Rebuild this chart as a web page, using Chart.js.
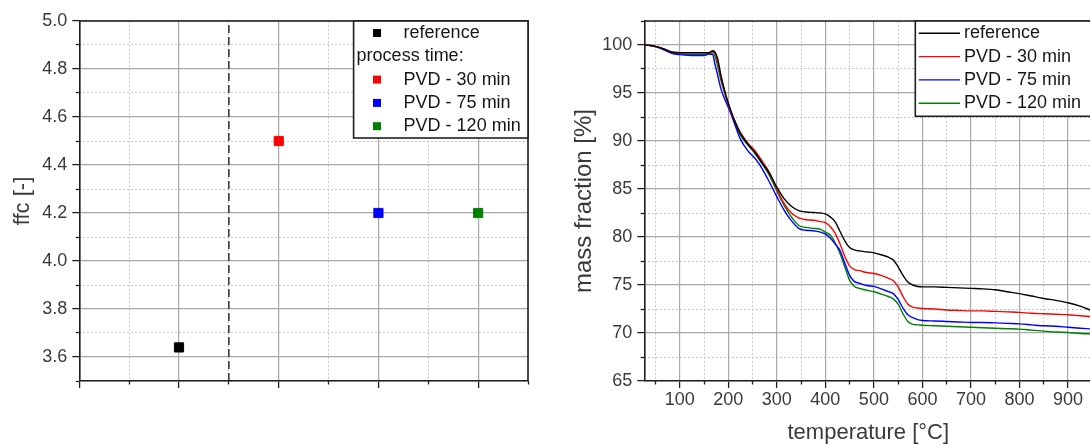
<!DOCTYPE html>
<html>
<head>
<meta charset="utf-8">
<title>ffc and TGA of PVD-coated powders</title>
<script src="https://cdn.jsdelivr.net/npm/chart.js@4.4.1/dist/chart.umd.min.js"></script>
<style>
  html, body { margin: 0; padding: 0; background: #fff; width: 1090px; height: 445px; overflow: hidden; position: relative; }
  canvas { position: absolute; top: 0; }
  #ffcChart { left: 0; }
  #tgaChart { left: 545px; }
</style>
</head>
<body>
<canvas id="ffcChart" width="545" height="445"></canvas>
<canvas id="tgaChart" width="550" height="445"></canvas>
<script>
// ---- flowability (ffc) per sample ----
const sampleNames = ['reference', 'PVD - 30 min', 'PVD - 75 min', 'PVD - 120 min'];
const sampleColors = ['#000000', '#ff0000', '#0000ff', '#008000'];
const samplePositions = [1, 2, 3, 4];
const ffcValues = [3.64, 4.50, 4.20, 4.20];
const ffcHeading = 'process time:';
const dividerPosition = 1.5;

const ffcMajorTicks = [3.6, 3.8, 4.0, 4.2, 4.4, 4.6, 4.8, 5.0];
const ffcMinorTicks = [3.5, 3.7, 3.9, 4.1, 4.3, 4.5, 4.7, 4.9];
const positionMajorTicks = [0, 1, 2, 3, 4];
const positionMinorTicks = [0.5, 1.5, 2.5, 3.5, 4.5];

// ---- thermogravimetric curves ----
const temperatureC = [27, 40, 55, 70, 85, 100, 130, 150, 160, 168,
  172, 178, 185, 195, 205, 215, 225, 240, 255, 270,
  285, 300, 315, 330, 345, 360, 375, 390, 400, 410,
  420, 430, 440, 450, 460, 470, 485, 500, 515, 530,
  540, 550, 560, 570, 580, 590, 600, 625, 650, 675,
  700, 725, 750, 775, 800, 825, 850, 875, 900, 925, 950];

const massReference = [100.0, 99.95, 99.8, 99.55, 99.25, 99.2, 99.2, 99.2, 99.2, 99.4,
  99.3, 98.6, 96.8, 94.8, 93.2, 91.9, 90.8, 89.7, 88.8, 87.7,
  86.6, 85.2, 84.0, 83.2, 82.75, 82.6, 82.55, 82.5, 82.4, 82.1,
  81.6, 80.6, 79.6, 78.9, 78.65, 78.55, 78.45, 78.35, 78.15, 77.9,
  77.6, 76.9, 76.0, 75.3, 75.0, 74.85, 74.8, 74.8, 74.75, 74.7,
  74.65, 74.6, 74.5, 74.3, 74.1, 73.85, 73.6, 73.4, 73.15, 72.8, 72.3];

const massPvd30 = [100.0, 99.95, 99.8, 99.55, 99.25, 99.2, 99.2, 99.2, 99.2, 99.3,
  99.2, 98.3, 96.6, 94.7, 93.1, 91.9, 90.9, 89.8, 89.0, 87.9,
  86.7, 85.0, 83.5, 82.5, 82.0, 81.8, 81.75, 81.6, 81.5, 81.1,
  80.4, 79.3, 78.0, 77.0, 76.6, 76.5, 76.3, 76.2, 76.0, 75.7,
  75.45, 74.8, 73.8, 73.0, 72.7, 72.6, 72.55, 72.5, 72.4, 72.35,
  72.3, 72.3, 72.25, 72.2, 72.15, 72.05, 72.0, 71.95, 71.9, 71.8, 71.7];

const massPvd75 = [100.0, 99.95, 99.75, 99.45, 99.1, 99.0, 98.9, 98.9, 99.05, 99.0,
  98.1, 96.9, 95.4, 94.1, 92.9, 91.5, 90.2, 89.0, 88.2, 87.1,
  85.7, 84.2, 82.8, 81.7, 80.9, 80.7, 80.65, 80.5, 80.3, 79.9,
  79.3, 78.6, 77.3, 76.0, 75.35, 75.2, 74.95, 74.85, 74.6, 74.3,
  74.1, 73.5, 72.6, 71.9, 71.6, 71.4, 71.3, 71.25, 71.2, 71.15,
  71.1, 71.1, 71.05, 71.0, 70.95, 70.85, 70.75, 70.7, 70.6, 70.5, 70.4];

const massPvd120 = [100.0, 99.95, 99.75, 99.45, 99.15, 99.05, 99.0, 99.0, 99.1, 99.2,
  98.9, 97.8, 96.3, 94.6, 93.1, 91.7, 90.6, 89.6, 88.7, 87.6,
  86.4, 84.8, 83.3, 82.1, 81.2, 81.0, 80.9, 80.8, 80.5, 80.2,
  79.4, 78.3, 76.9, 75.5, 74.85, 74.65, 74.45, 74.3, 74.05, 73.8,
  73.55, 73.0, 72.0, 71.2, 70.9, 70.85, 70.8, 70.75, 70.7, 70.65,
  70.6, 70.55, 70.5, 70.45, 70.4, 70.3, 70.2, 70.1, 70.05, 69.95, 69.9];

const massSeries = [massReference, massPvd30, massPvd75, massPvd120];

const tempMajorTicks = [100, 200, 300, 400, 500, 600, 700, 800, 900];
const tempMinorTicks = [50, 150, 250, 350, 450, 550, 650, 750, 850, 950];
const massMajorTicks = [65, 70, 75, 80, 85, 90, 95, 100];
const massMinorTicks = [67.5, 72.5, 77.5, 82.5, 87.5, 92.5, 97.5, 102.5];

// ---- shared styling ----
const FONT = "'Liberation Sans', Arial, Helvetica, sans-serif";
const AXIS_COLOR = '#1e1e1e';
const GRID_MAJOR = '#a8a8a8';
const GRID_MINOR = '#c8c8c8';
const LABEL_COLOR = '#3a3a3a';
const LEGEND_TEXT = '#161616';

Chart.defaults.font.family = FONT;
Chart.defaults.animation = false;

const fixedTicks = values => scale => { scale.ticks = values.map(v => ({ value: v })); };

function majorAxis(position, min, max, ticks, size, extra) {
  return Object.assign({
    type: 'linear', position, min, max, weight: 1,
    afterBuildTicks: fixedTicks(ticks),
    afterFit: s => { if (position === 'left') s.width = size; else s.height = size; },
    grid: { color: GRID_MAJOR, lineWidth: 1.2, tickLength: 7, tickColor: AXIS_COLOR, tickWidth: 1.3 },
    border: { display: true, color: AXIS_COLOR, width: 1.6 }
  }, extra);
}

function minorAxis(position, min, max, ticks) {
  return {
    type: 'linear', position, min, max, weight: 0,
    afterBuildTicks: fixedTicks(ticks),
    afterFit: s => { if (position === 'left') s.width = 0; else s.height = 0; },
    grid: { color: GRID_MINOR, lineWidth: 1, tickLength: 3.5, tickColor: AXIS_COLOR, tickWidth: 1.3 },
    border: { display: false, dash: [2, 2] },
    ticks: { display: false }
  };
}

// top and right edges of the plot frame
const plotFrame = {
  id: 'plotFrame',
  afterDatasetsDraw(chart) {
    const { ctx, chartArea: a } = chart;
    ctx.save();
    ctx.strokeStyle = AXIS_COLOR;
    ctx.lineWidth = 1.6;
    ctx.beginPath();
    ctx.moveTo(a.left, a.top);
    ctx.lineTo(a.right, a.top);
    ctx.lineTo(a.right, a.bottom);
    ctx.stroke();
    ctx.restore();
  }
};

// boxed legend in the upper-right corner of the plot
function boxLegend(cfg) {
  return {
    id: 'boxLegend',
    afterDraw(chart) {
      const { ctx, chartArea: a } = chart;
      const left = a.right - cfg.width;
      const top = a.top;
      ctx.save();
      ctx.fillStyle = '#ffffff';
      ctx.fillRect(left, top, cfg.width, cfg.height);
      ctx.strokeStyle = AXIS_COLOR;
      ctx.lineWidth = 1.6;
      ctx.strokeRect(left, top, cfg.width, cfg.height);
      ctx.font = '18px ' + FONT;
      ctx.textBaseline = 'middle';
      ctx.textAlign = 'left';
      cfg.rows.forEach((row, i) => {
        const y = top + cfg.firstRow + i * cfg.rowGap;
        if (row.heading) {
          ctx.fillStyle = LEGEND_TEXT;
          ctx.fillText(row.heading, left + 3, y);
          return;
        }
        const ds = chart.data.datasets[row.dataset];
        if (cfg.kind === 'marker') {
          ctx.fillStyle = ds.backgroundColor;
          ctx.fillRect(left + 23.4 - 4, y - 4, 8, 8);
        } else {
          ctx.strokeStyle = ds.borderColor;
          ctx.lineWidth = 1.4;
          ctx.beginPath();
          ctx.moveTo(left + 3.5, y);
          ctx.lineTo(left + 44.7, y);
          ctx.stroke();
        }
        ctx.fillStyle = LEGEND_TEXT;
        ctx.fillText(ds.label, left + cfg.textX, y);
      });
      ctx.restore();
    }
  };
}

// ---- left chart: ffc ----
const ffcDatasets = sampleNames.map((name, i) => ({
  label: name,
  data: [{ x: samplePositions[i], y: ffcValues[i] }],
  backgroundColor: sampleColors[i],
  borderColor: sampleColors[i],
  borderWidth: 1,
  pointStyle: 'rect',
  pointRadius: 6.5,
  pointHoverRadius: 6.5,
  xAxisID: 'x', yAxisID: 'y'
}));
ffcDatasets.push({
  label: 'divider',
  data: [{ x: dividerPosition, y: 3.5 }, { x: dividerPosition, y: 5.0 }],
  showLine: true,
  borderColor: '#111111',
  borderWidth: 1.3,
  borderDash: [8, 4],
  pointRadius: 0,
  xAxisID: 'x', yAxisID: 'y'
});

new Chart(document.getElementById('ffcChart'), {
  type: 'scatter',
  data: { datasets: ffcDatasets },
  options: {
    responsive: false,
    devicePixelRatio: 1,
    layout: { padding: { top: 21, right: 17, bottom: 0, left: 0 } },
    plugins: { legend: { display: false }, tooltip: { enabled: false } },
    scales: {
      y: majorAxis('left', 3.5, 5.0, ffcMajorTicks, 79.3, {
        ticks: { padding: 5, color: LABEL_COLOR, font: { size: 18 }, callback: v => v.toFixed(1) },
        title: { display: true, text: 'ffc [-]', color: LABEL_COLOR, font: { size: 22, lineHeight: 1.2 }, padding: { top: 9.3, bottom: 0 } }
      }),
      yMinor: minorAxis('left', 3.5, 5.0, ffcMinorTicks),
      x: majorAxis('bottom', 0, 4.5, positionMajorTicks, 64, { ticks: { display: false } }),
      xMinor: minorAxis('bottom', 0, 4.5, positionMinorTicks)
    }
  },
  plugins: [plotFrame, boxLegend({
    kind: 'marker', width: 174.4, height: 117, firstRow: 12, rowGap: 23.3, textX: 50,
    rows: [{ dataset: 0 }, { heading: ffcHeading }, { dataset: 1 }, { dataset: 2 }, { dataset: 3 }]
  })]
});

// ---- right chart: mass fraction vs temperature ----
new Chart(document.getElementById('tgaChart'), {
  type: 'line',
  data: {
    datasets: sampleNames.map((name, i) => ({
      label: name,
      data: temperatureC.map((t, k) => ({ x: t, y: massSeries[i][k] })),
      borderColor: sampleColors[i],
      backgroundColor: sampleColors[i],
      borderWidth: 1.4,
      pointRadius: 0,
      cubicInterpolationMode: 'monotone',
      xAxisID: 'x', yAxisID: 'y'
    }))
  },
  options: {
    responsive: false,
    devicePixelRatio: 1,
    layout: { padding: { top: 21, right: 2.7, bottom: 0, left: 0 } },
    plugins: { legend: { display: false }, tooltip: { enabled: false } },
    scales: {
      y: majorAxis('left', 65, 102.5, massMajorTicks, 99.3, {
        ticks: { padding: 5, color: LABEL_COLOR, font: { size: 18 } },
        title: { display: true, text: 'mass fraction [%]', color: LABEL_COLOR, font: { size: 24, lineHeight: 1.2 }, padding: { top: 24.6, bottom: 0 } }
      }),
      yMinor: minorAxis('left', 65, 102.5, massMinorTicks),
      x: majorAxis('bottom', 27, 950, tempMajorTicks, 64, {
        ticks: { padding: 1, color: LABEL_COLOR, font: { size: 18 }, autoSkip: false, maxRotation: 0 },
        title: { display: true, text: 'temperature [°C]', color: LABEL_COLOR, font: { size: 22, lineHeight: 1 }, padding: { top: 0, bottom: 1 } }
      }),
      xMinor: minorAxis('bottom', 27, 950, tempMinorTicks)
    }
  },
  plugins: [plotFrame, boxLegend({
    kind: 'line', width: 177, height: 95.3, firstRow: 12.3, rowGap: 23.3, textX: 48.7,
    rows: [{ dataset: 0 }, { dataset: 1 }, { dataset: 2 }, { dataset: 3 }]
  })]
});
</script>
</body>
</html>
